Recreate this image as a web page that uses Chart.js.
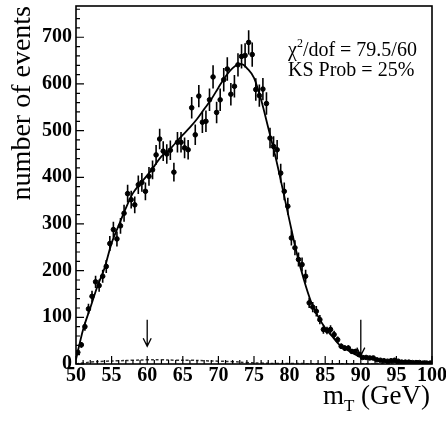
<!DOCTYPE html>
<html>
<head>
<meta charset="utf-8">
<script src="https://cdn.jsdelivr.net/npm/chart.js@4.4.0/dist/chart.umd.min.js"></script>
<style>
  html, body { margin: 0; padding: 0; background: #fff; }
  #wrap { width: 446px; height: 423px; }
</style>
</head>
<body>
<div id="wrap"><canvas id="mtChart" width="446" height="423"></canvas></div>
<script>
// bin centres (0.5 GeV bins)
const binCenters = [
  50.25, 50.75, 51.25, 51.75, 52.25, 52.75, 53.25, 53.75, 54.25, 54.75,
  55.25, 55.75, 56.25, 56.75, 57.25, 57.75, 58.25, 58.75, 59.25, 59.75,
  60.25, 60.75, 61.25, 61.75, 62.25, 62.75, 63.25, 63.75, 64.25, 64.75,
  65.25, 65.75, 66.25, 66.75, 67.25, 67.75, 68.25, 68.75, 69.25, 69.75,
  70.25, 70.75, 71.25, 71.75, 72.25, 72.75, 73.25, 73.75, 74.25, 74.75,
  75.25, 75.75, 76.25, 76.75, 77.25, 77.75, 78.25, 78.75, 79.25, 79.75,
  80.25, 80.75, 81.25, 81.75, 82.25, 82.75, 83.25, 83.75, 84.25, 84.75,
  85.25, 85.75, 86.25, 86.75, 87.25, 87.75, 88.25, 88.75, 89.25, 89.75,
  90.25, 90.75, 91.25, 91.75, 92.25, 92.75, 93.25, 93.75, 94.25, 94.75,
  95.25, 95.75, 96.25, 96.75, 97.25, 97.75, 98.25, 98.75, 99.25, 99.75
];
const counts = [
  25, 41, 80, 118, 145, 176, 168, 188, 209, 258,
  288, 268, 296, 323, 365, 352, 341, 384, 389, 370,
  402, 416, 448, 482, 456, 450, 458, 411, 475, 475,
  463, 459, 549, 491, 574, 518, 520, 566, 615, 539,
  566, 609, 632, 578, 595, 641, 659, 661, 689, 663,
  588, 575, 589, 558, 484, 466, 459, 409, 370, 338,
  270, 249, 224, 213, 188, 131, 122, 113, 95, 74,
  72, 74, 63, 52, 38, 34, 34, 27, 27, 20,
  14, 14, 13, 13, 9, 8, 7, 6, 7, 8,
  6, 4, 4, 4, 3, 3, 3, 2, 2, 2
];
const errors = [
  5, 6, 9, 11, 12, 13, 13, 14, 14, 16,
  17, 16, 17, 18, 19, 19, 18, 20, 20, 19,
  20, 20, 21, 22, 21, 21, 21, 20, 22, 22,
  22, 21, 23, 22, 24, 23, 23, 24, 25, 23,
  24, 25, 25, 24, 24, 25, 26, 26, 26, 26,
  24, 24, 24, 24, 22, 22, 21, 20, 19, 18,
  16, 16, 15, 15, 14, 11, 11, 11, 10, 9,
  8, 9, 8, 7, 6, 6, 6, 5, 5, 4,
  4, 4, 4, 4, 3, 3, 3, 2, 3, 3,
  2, 2, 2, 2, 2, 2, 2, 1, 1, 1
];

// fitted template
const fitX = [50, 51, 52, 53, 54, 55, 56, 57, 58, 59, 60, 61, 62, 63, 64, 65, 66, 67, 68, 69,
  70, 71, 72, 73, 73.5, 74, 75, 76, 77, 78, 79, 80, 81, 82, 83, 84, 85, 86, 87, 88, 89,
  90, 92, 95, 100];
const fitY = [10, 74, 120, 166, 205, 259, 297, 334, 366, 386, 404, 424, 445, 457, 474, 491, 507, 525, 546, 567,
  592, 616, 634, 643, 641, 634, 613, 566, 506, 445, 377, 306, 238, 181, 134, 102, 77, 59, 41, 31, 22,
  15, 9, 4, 2];

// background estimate
const bgX = [50, 51, 52, 54, 56, 58, 60, 62, 64, 66, 68, 70, 72, 74, 76, 78, 80, 85, 90, 100];
const bgY = [0, 2, 4, 6, 7, 8, 9, 9, 8, 8, 7, 6, 5, 3, 2, 1, 1, 0.5, 0.3, 0];

// fit window arrows
const arrowX = [60, 90];
const arrowTop = [95, 95];
const arrowTip = [38, 18];

const serif = "'Liberation Serif', 'DejaVu Serif', serif";

const pts = binCenters.map((x, i) => ({ x: x, y: counts[i] }));

const framePlugin = {
  id: "frame",
  afterDatasetsDraw(chart) {
    const ctx = chart.ctx;
    const xs = chart.scales.x, ys = chart.scales.y;
    const a = chart.chartArea;
    ctx.save();
    // error bars
    ctx.strokeStyle = "#000";
    ctx.lineWidth = 1.6;
    ctx.beginPath();
    binCenters.forEach((x, i) => {
      const px = xs.getPixelForValue(x);
      ctx.moveTo(px, ys.getPixelForValue(counts[i] - errors[i]));
      ctx.lineTo(px, ys.getPixelForValue(counts[i] + errors[i]));
    });
    ctx.stroke();

    // frame
    ctx.lineWidth = 1.6;
    ctx.strokeRect(a.left, a.top, a.right - a.left, a.bottom - a.top);

    // ticks on left axis
    ctx.lineWidth = 1.2;
    ctx.beginPath();
    for (let v = 0; v <= 760; v += 20) {
      const py = ys.getPixelForValue(v);
      const len = v % 100 === 0 ? 8 : 4;
      ctx.moveTo(a.left, py);
      ctx.lineTo(a.left + len, py);
    }
    // ticks on bottom axis
    for (let v = 50; v <= 100; v += 1) {
      const px = xs.getPixelForValue(v);
      const len = v % 5 === 0 ? 8 : 4;
      ctx.moveTo(px, a.bottom);
      ctx.lineTo(px, a.bottom - len);
    }
    ctx.stroke();

    // arrows
    ctx.lineWidth = 1.3;
    arrowX.forEach((x, i) => {
      const px = xs.getPixelForValue(x);
      const y0 = ys.getPixelForValue(arrowTop[i]);
      const y1 = ys.getPixelForValue(arrowTip[i]);
      ctx.beginPath();
      ctx.moveTo(px, y0);
      ctx.lineTo(px, y1);
      ctx.moveTo(px - 4, y1 - 8);
      ctx.lineTo(px, y1);
      ctx.lineTo(px + 4, y1 - 8);
      ctx.stroke();
    });

    // fit text
    ctx.fillStyle = "#000";
    ctx.textBaseline = "alphabetic";
    ctx.textAlign = "left";
    ctx.font = "20px " + serif;
    let tx = 288;
    ctx.fillText("\u03c7", tx, 56);
    tx += ctx.measureText("\u03c7").width;
    ctx.font = "12px " + serif;
    ctx.fillText("2", tx, 47);
    tx += ctx.measureText("2").width;
    ctx.font = "20px " + serif;
    ctx.fillText("/dof = 79.5/60", tx, 56);
    ctx.fillText("KS Prob = 25%", 288, 76);

    // x axis title m_T (GeV)
    ctx.font = "27px " + serif;
    const rest = " (GeV)";
    const wRest = ctx.measureText(rest).width;
    const wM = ctx.measureText("m").width;
    ctx.font = "17px " + serif;
    const wT = ctx.measureText("T").width;
    let x0 = 430 - wRest - wT - wM;
    ctx.font = "27px " + serif;
    ctx.fillText("m", x0, 404);
    ctx.font = "17px " + serif;
    ctx.fillText("T", x0 + wM, 411);
    ctx.font = "27px " + serif;
    ctx.fillText(rest, x0 + wM + wT, 404);
    ctx.restore();
  }
};

const ctx = document.getElementById("mtChart").getContext("2d");

const mtChart = new Chart(ctx, {
  type: "scatter",
  data: {
    datasets: [
      {
        label: "data",
        data: pts,
        backgroundColor: "#000",
        borderColor: "#000",
        pointRadius: 2.3,
        pointHoverRadius: 2.3,
        order: 1
      },
      {
        label: "fit",
        type: "line",
        data: fitX.map((x, i) => ({ x: x, y: fitY[i] })),
        borderColor: "#000",
        borderWidth: 1.8,
        pointRadius: 0,
        fill: false,
        cubicInterpolationMode: "monotone",
        order: 2
      },
      {
        label: "background",
        type: "line",
        data: bgX.map((x, i) => ({ x: x, y: bgY[i] })),
        borderColor: "#333",
        borderWidth: 1.5,
        borderDash: [3, 2],
        pointRadius: 0,
        fill: false,
        tension: 0.4,
        order: 3
      }
    ]
  },
  options: {
    responsive: false,
    animation: false,
    layout: { padding: { top: 6, right: 14, left: 0, bottom: 0 } },
    plugins: {
      legend: { display: false },
      tooltip: { enabled: false }
    },
    scales: {
      x: {
        type: "linear",
        min: 50,
        max: 100,
        grid: { display: false, drawTicks: false },
        border: { display: false },
        ticks: {
          stepSize: 5,
          padding: 2,
          maxRotation: 0,
          minRotation: 0,
          autoSkip: false,
          color: "#000",
          font: { family: serif, size: 20, weight: "bold", lineHeight: 1 }
        },
        afterFit(scale) {
          scale.height = 59;
          scale.paddingLeft = 0;
          scale.paddingRight = 0;
        }
      },
      y: {
        min: 0,
        max: 767,
        grid: { display: false, drawTicks: false },
        border: { display: false },
        ticks: {
          stepSize: 100,
          padding: 4,
          color: "#000",
          font: { family: serif, size: 20, weight: "bold", lineHeight: 1 }
        },
        afterBuildTicks(scale) {
          scale.ticks = scale.ticks.filter(t => t.value % 100 === 0);
        },
        title: {
          display: true,
          text: "number of events",
          align: "end",
          color: "#000",
          padding: { top: 6, bottom: 0 },
          font: { family: serif, size: 28 }
        },
        afterFit(scale) {
          scale.width = 76;
          scale.paddingTop = 0;
          scale.paddingBottom = 0;
        }
      }
    }
  },
  plugins: [framePlugin]
});
</script>
</body>
</html>
